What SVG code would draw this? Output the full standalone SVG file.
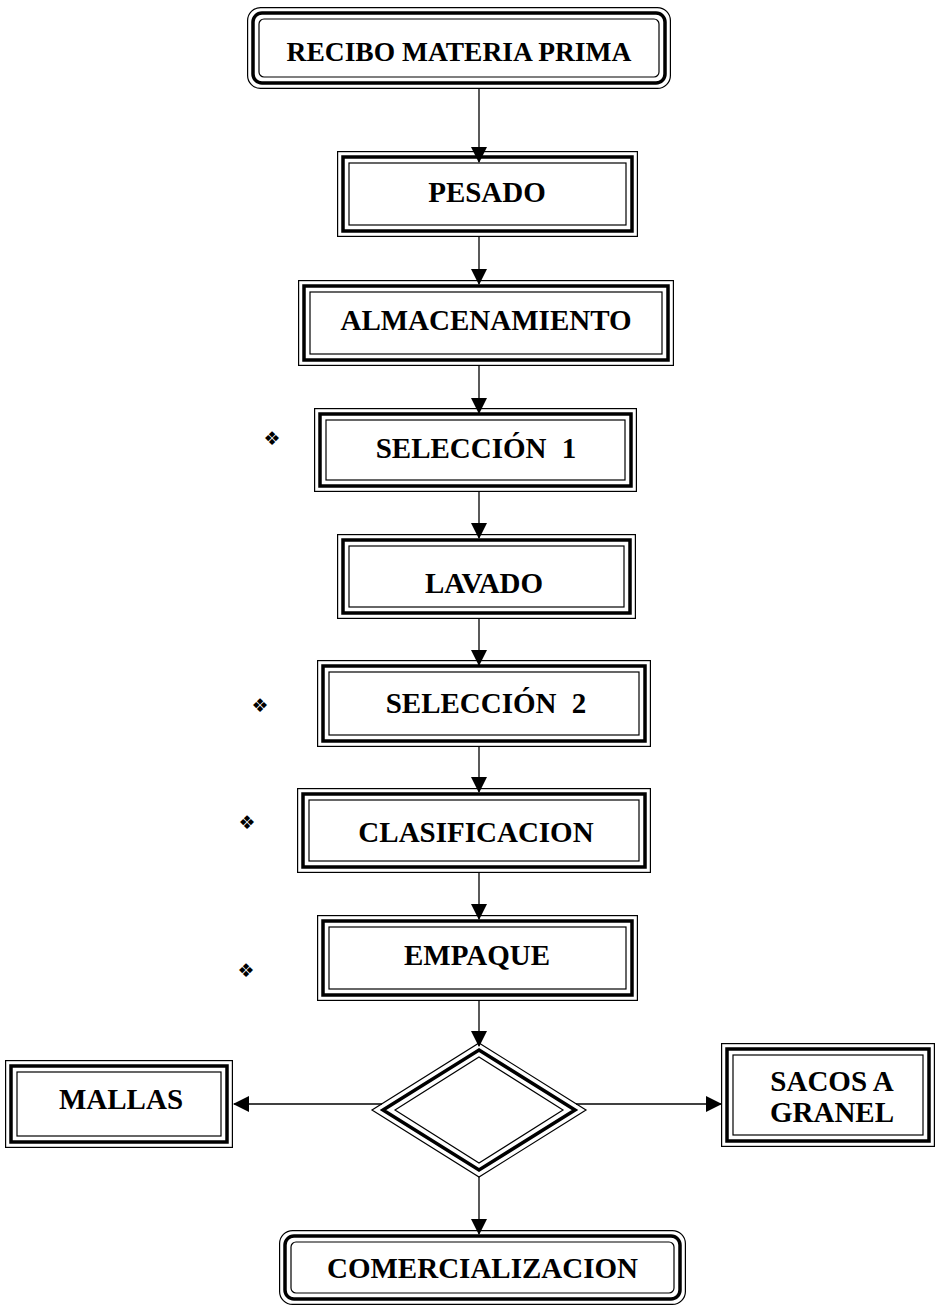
<svg xmlns="http://www.w3.org/2000/svg" width="938" height="1306" viewBox="0 0 938 1306">
<defs>
<style>
.o{fill:none;stroke:#000;stroke-width:1.2}
.k{fill:none;stroke:#000;stroke-width:3.5}
.i{fill:none;stroke:#000;stroke-width:1.2}
.lbl{font-family:"Liberation Serif","Times New Roman",serif;font-weight:bold;font-size:29px;text-anchor:middle;fill:#000}
.bul{font-family:"DejaVu Sans",sans-serif;font-size:19px;text-anchor:middle;fill:#000}
.c line{stroke:#000;stroke-width:1.3}
</style>
<marker id="ah" viewBox="0 0 16 16" markerWidth="16" markerHeight="16" refX="15" refY="8" orient="auto" markerUnits="userSpaceOnUse">
<path d="M0,0 L16,8 L0,16 z" fill="#000"/>
</marker>
</defs>
<rect width="938" height="1306" fill="#fff"/>

<g class="c" id="connectors">
<line x1="479" y1="89" x2="479" y2="162" marker-end="url(#ah)"/>
<line x1="479" y1="237" x2="479" y2="284" marker-end="url(#ah)"/>
<line x1="479" y1="366" x2="479" y2="413" marker-end="url(#ah)"/>
<line x1="479" y1="492" x2="479" y2="538" marker-end="url(#ah)"/>
<line x1="479" y1="619" x2="479" y2="665" marker-end="url(#ah)"/>
<line x1="479" y1="747" x2="479" y2="792" marker-end="url(#ah)"/>
<line x1="479" y1="873" x2="479" y2="919" marker-end="url(#ah)"/>
<line x1="479" y1="1001" x2="479" y2="1046" marker-end="url(#ah)"/>
<line x1="479" y1="1177" x2="479" y2="1234" marker-end="url(#ah)"/>
<line x1="382" y1="1104" x2="234" y2="1104" marker-end="url(#ah)"/>
<line x1="576" y1="1104" x2="721" y2="1104" marker-end="url(#ah)"/>
</g>

<g id="recibo">
<rect class="o" x="247.6" y="7.6" width="422.8" height="80.8" rx="13"/>
<rect class="k" x="253" y="13" width="412" height="70" rx="9"/>
<rect class="i" x="259" y="19" width="400" height="58" rx="5"/>
<text class="lbl" x="459" y="61" style="font-size:27.5px">RECIBO MATERIA PRIMA</text>
</g>

<g id="pesado">
<rect class="o" x="337.6" y="151.6" width="299.8" height="84.8"/>
<rect class="k" x="343" y="157" width="289" height="74"/>
<rect class="i" x="349" y="163" width="277" height="62"/>
<text class="lbl" x="487" y="202">PESADO</text>
</g>

<g id="almacenamiento">
<rect class="o" x="298.6" y="280.6" width="374.8" height="84.8"/>
<rect class="k" x="304" y="286" width="364" height="74"/>
<rect class="i" x="310" y="292" width="352" height="62"/>
<text class="lbl" x="486" y="330">ALMACENAMIENTO</text>
</g>

<g id="seleccion1">
<rect class="o" x="314.6" y="408.6" width="321.8" height="82.8"/>
<rect class="k" x="320" y="414" width="311" height="72"/>
<rect class="i" x="326" y="420" width="299" height="60"/>
<text class="lbl" x="476" y="458" word-spacing="8">SELECCIÓN 1</text>
<text class="bul" x="272" y="445">❖</text>
</g>

<g id="lavado">
<rect class="o" x="337.6" y="534.6" width="297.8" height="83.8"/>
<rect class="k" x="343" y="540" width="287" height="73"/>
<rect class="i" x="349" y="546" width="275" height="61"/>
<text class="lbl" x="484" y="593">LAVADO</text>
</g>

<g id="seleccion2">
<rect class="o" x="317.6" y="660.6" width="332.8" height="85.8"/>
<rect class="k" x="323" y="666" width="322" height="75"/>
<rect class="i" x="329" y="672" width="310" height="63"/>
<text class="lbl" x="486" y="713" word-spacing="8">SELECCIÓN 2</text>
<text class="bul" x="260" y="712">❖</text>
</g>

<g id="clasificacion">
<rect class="o" x="297.6" y="788.6" width="352.8" height="83.8"/>
<rect class="k" x="303" y="794" width="342" height="73"/>
<rect class="i" x="309" y="800" width="330" height="61"/>
<text class="lbl" x="476" y="842">CLASIFICACION</text>
<text class="bul" x="247" y="829">❖</text>
</g>

<g id="empaque">
<rect class="o" x="317.6" y="915.6" width="319.8" height="84.8"/>
<rect class="k" x="323" y="921" width="309" height="74"/>
<rect class="i" x="329" y="927" width="297" height="62"/>
<text class="lbl" x="477" y="965">EMPAQUE</text>
<text class="bul" x="246" y="977">❖</text>
</g>

<g id="decision">
<polygon class="o" points="479,1043 586,1110 479,1177 372,1110"/>
<polygon class="k" points="479,1050 575,1110 479,1170 383,1110"/>
<polygon class="i" points="479,1057 563,1110 479,1163 395,1110"/>
</g>

<g id="mallas">
<rect class="o" x="5.6" y="1060.6" width="226.8" height="86.8"/>
<rect class="k" x="11" y="1066" width="216" height="76"/>
<rect class="i" x="17" y="1072" width="204" height="64"/>
<text class="lbl" x="121" y="1109">MALLAS</text>
</g>

<g id="sacos">
<rect class="o" x="721.6" y="1043.6" width="212.8" height="102.8"/>
<rect class="k" x="727" y="1049" width="202" height="92"/>
<rect class="i" x="733" y="1055" width="190" height="80"/>
<text class="lbl" x="832" y="1091">SACOS A</text>
<text class="lbl" x="832" y="1122">GRANEL</text>
</g>

<g id="comercializacion">
<rect class="o" x="279.6" y="1230.6" width="405.8" height="73.8" rx="13"/>
<rect class="k" x="285" y="1236" width="395" height="63" rx="9"/>
<rect class="i" x="291" y="1242" width="383" height="51" rx="5"/>
<text class="lbl" x="482.5" y="1278">COMERCIALIZACION</text>
</g>
</svg>
